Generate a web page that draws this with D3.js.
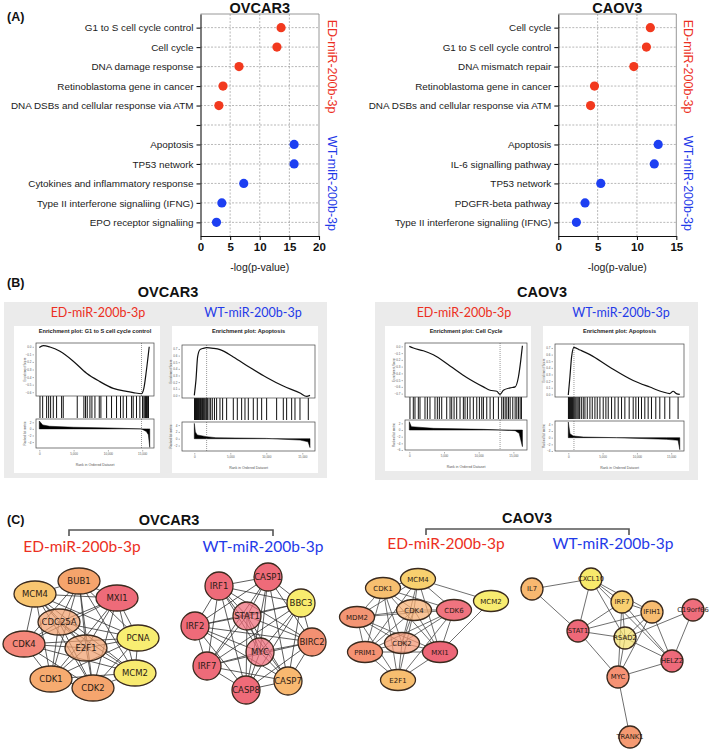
<!DOCTYPE html>
<html>
<head>
<meta charset="utf-8">
<script src="https://cdn.jsdelivr.net/npm/d3@7"></script>
<style>
body { margin: 0; background: #fff; }
text { font-family: "Liberation Sans", Arial, sans-serif; }
</style>
</head>
<body>
<svg id="fig" width="709" height="752"></svg>
<script>
// ---------- panel A data ----------
var ovEdTerms = ["G1 to S cell cycle control", "Cell cycle", "DNA damage response", "Retinoblastoma gene in cancer", "DNA DSBs and cellular response via ATM"];
var ovEdVals = [13.6, 12.9, 6.5, 3.8, 3.1];
var ovWtTerms = ["Apoptosis", "TP53 network", "Cytokines and inflammatory response", "Type II interferone signaliing (IFNG)", "EPO receptor signaliing"];
var ovWtVals = [15.8, 15.8, 7.3, 3.6, 2.7];
var caEdTerms = ["Cell cycle", "G1 to S cell cycle control", "DNA mismatch repair", "Retinoblastoma gene in cancer", "DNA DSBs and cellular response via ATM"];
var caEdVals = [11.7, 11.2, 9.6, 4.6, 4.1];
var caWtTerms = ["Apoptosis", "IL-6 signalling pathway", "TP53 network", "PDGFR-beta pathway", "Type II interferone signaliing (IFNG)"];
var caWtVals = [12.7, 12.2, 5.4, 3.4, 2.3];
var ovTicks = [0, 5, 10, 15, 20];
var caTicks = [0, 5, 10, 15];

// ---------- panel B data (GSEA) : [rank, value] ----------
var ovEdEs = [[0, -0.01], [580, 0.015], [1550, -0.003], [3010, -0.06], [4950, -0.19], [6890, -0.35], [8830, -0.46], [10780, -0.55], [12720, -0.59], [13690, -0.605], [14900, -0.62], [15240, -0.55], [15630, -0.30], [16020, 0]];
var ovEdMetric = [[0, 2.4], [500, 1.2], [1500, 0.8], [5000, 0.5], [10000, 0.3], [14900, 0], [15600, -0.8], [15900, -1.8], [16100, -5.6]];
var ovEdHits = [100, 490, 1070, 1360, 1650, 2040, 2520, 3250, 3490, 5530, 6500, 6740, 6990, 7380, 7670, 8110, 8740, 8980, 9810, 10530, 11260, 11840, 12230, 12720, 13450, 13690, 14170, 14660, 15050, 15250, 15390, 15490, 15630, 15730, 15830, 15920];

var ovWtEs = [[0, 0], [230, 0.23], [460, 0.58], [790, 0.69], [1250, 0.71], [1710, 0.72], [2640, 0.71], [3570, 0.69], [5420, 0.58], [7730, 0.42], [10050, 0.27], [12360, 0.14], [14680, 0.036], [15600, -0.015], [16070, 0]];
var ovWtMetric = [[0, 4.5], [150, 2.0], [400, 1.1], [1700, 0.6], [3000, 0.3], [10000, 0.1], [14700, -0.4], [15800, -0.9], [16070, -2.6]];
var ovWtHits = [30, 90, 160, 230, 290, 360, 430, 520, 600, 680, 770, 850, 940, 1040, 1150, 1260, 1390, 1520, 1680, 1850, 2050, 2270, 2500, 2800, 3100, 3565, 3935, 4490, 5417, 5973, 6575, 7038, 7500, 8195, 8750, 9353, 10047, 11436, 12362, 12825, 13520, 13983, 14677, 15835];

var caEdEs = [[0, 0], [580, -0.025], [2020, -0.065], [3460, -0.125], [5870, -0.29], [8270, -0.46], [10680, -0.60], [11640, -0.65], [12600, -0.665], [13080, -0.71], [13560, -0.65], [14530, -0.615], [15250, -0.60], [15730, -0.45], [16070, -0.2], [16300, 0.01]];
var caEdMetric = [[0, 2.5], [300, 1.0], [3500, 0.5], [10700, 0.2], [13080, 0], [15250, -0.2], [15830, -1.0], [16300, -5.0]];
var caEdHits = [96, 577, 818, 1299, 1540, 2260, 2600, 2980, 3700, 4040, 4330, 4670, 5390, 5870, 6110, 6450, 6830, 7310, 7790, 8030, 8370, 8750, 9230, 9720, 10100, 10440, 10680, 11160, 11640, 12120, 12840, 13320, 13560, 13810, 14050, 14290, 14530, 14910, 15250, 15490, 15730, 15970, 16160];

var caWtEs = [[0, -0.01], [240, 0.27], [485, 0.57], [825, 0.71], [1700, 0.67], [3150, 0.60], [6060, 0.41], [9460, 0.21], [11880, 0.11], [13820, 0.036], [14790, 0.011], [15280, 0.047], [15760, 0.011], [16250, 0]];
var caWtMetric = [[0, 4.7], [240, 1.2], [730, 0.5], [2200, 0.2], [7000, 0], [14300, -0.5], [16000, -0.8], [16250, -3.6]];
var caWtHits = [20, 80, 150, 220, 290, 370, 450, 540, 630, 730, 850, 980, 1120, 1280, 1450, 1650, 1900, 2180, 2425, 2765, 3150, 3490, 3880, 4220, 4610, 5090, 5480, 5820, 6305, 6790, 7275, 7760, 8245, 8875, 9460, 9850, 10235, 10670, 11155, 11640, 12125, 12755, 13340, 14065, 14790, 16005];

// ---------- panel C data (network layouts) : [name, x, y, fill] ----------
var ovEdNodes = [["BUB1", 79, 581, "#f5a46c"], ["MCM4", 35, 594, "#f8c570"], ["MXI1", 117, 598, "#ee6b79"], ["CDC25A", 59, 622, "#f0a06e"],
  ["PCNA", 138, 638, "#f8ee72"], ["CDK4", 24, 644, "#f4877a"], ["E2F1", 86, 648, "#f0a06e"], ["CDK1", 51, 679, "#f6ab70"],
  ["CDK2", 93, 688, "#f5a56e"], ["MCM2", 135, 673, "#f8ea70"]];
var ovEdUnder = ["CDC25A", "E2F1"];
var ovWtNodes = [["IRF1", 219, 586, "#ee6b79"], ["CASP1", 268, 577, "#ee6b79"], ["BBC3", 301, 603, "#f8ec6e"], ["STAT1", 247, 616, "#ee6b79"],
  ["IRF2", 195, 626, "#ee6b79"], ["BIRC2", 312, 642, "#f39072"], ["MYC", 260, 652, "#ee6b79"], ["IRF7", 207, 666, "#ee6b79"],
  ["CASP7", 288, 681, "#f8b870"], ["CASP8", 246, 690, "#ee6b79"]];
var ovWtUnder = ["STAT1", "MYC"];
var caEdNodes = [["MCM4", 418, 579, "#f8d06f"], ["CDK1", 383, 588, "#f7bf70"], ["MCM2", 491, 601, "#f8ec70"], ["CDK4", 414, 610, "#f5ad70"],
  ["CDK6", 454, 610, "#f0747f"], ["MDM2", 357, 617, "#f39574"], ["CDK2", 402, 643, "#f49672"], ["MXI1", 440, 652, "#ed6677"],
  ["PRIM1", 365, 652, "#f59273"], ["E2F1", 398, 680, "#f7be70"]];
var caEdUnder = ["CDK4", "CDK2"];
var caWtNodes = [["IL7", 532, 589, "#f8b870"], ["CXCL10", 591, 579, "#f8ea6c"], ["IRF7", 622, 602, "#f8d070"], ["IFIH1", 652, 612, "#f8bc70"],
  ["C19orf66", 693, 610, "#ef6e7c"], ["STAT1", 578, 631, "#ee6878"], ["RSAD2", 625, 638, "#f4e06c"], ["HELZ2", 672, 661, "#ee6a7a"],
  ["MYC", 618, 677, "#f59274"], ["TRANK1", 630, 737, "#f59a72"]];
var caWtUnder = ["RSAD2"];

var ovEdEdges = [["BUB1","MCM4"],["BUB1","MXI1"],["BUB1","CDC25A"],["BUB1","E2F1"],["BUB1","CDK4"],["BUB1","CDK1"],["BUB1","CDK2"],["BUB1","PCNA"],["BUB1","MCM2"],
  ["MCM4","CDC25A"],["MCM4","CDK4"],["MCM4","E2F1"],["MCM4","MXI1"],["MCM4","PCNA"],["MCM4","MCM2"],["MCM4","CDK1"],["MCM4","CDK2"],
  ["MXI1","CDC25A"],["MXI1","E2F1"],["MXI1","PCNA"],["MXI1","CDK2"],["MXI1","CDK1"],["MXI1","CDK4"],["MXI1","MCM2"],
  ["CDC25A","E2F1"],["CDC25A","CDK4"],["CDC25A","CDK1"],["CDC25A","CDK2"],["CDC25A","PCNA"],["CDC25A","MCM2"],
  ["PCNA","E2F1"],["PCNA","MCM2"],["PCNA","CDK2"],["PCNA","CDK1"],["PCNA","CDK4"],
  ["CDK4","E2F1"],["CDK4","CDK1"],["CDK4","CDK2"],["CDK4","MCM2"],["E2F1","CDK1"],["E2F1","CDK2"],["E2F1","MCM2"],
  ["CDK1","CDK2"],["CDK1","MCM2"],["CDK2","MCM2"]];
var ovWtEdges = [["IRF1","CASP1"],["IRF1","STAT1"],["IRF1","IRF2"],["IRF1","MYC"],["IRF1","IRF7"],["IRF1","BBC3"],["IRF1","BIRC2"],["IRF1","CASP7"],["IRF1","CASP8"],
  ["CASP1","STAT1"],["CASP1","BBC3"],["CASP1","IRF2"],["CASP1","MYC"],["CASP1","BIRC2"],["CASP1","IRF7"],["CASP1","CASP8"],["CASP1","CASP7"],
  ["BBC3","STAT1"],["BBC3","IRF2"],["BBC3","MYC"],["BBC3","BIRC2"],["BBC3","CASP7"],["BBC3","CASP8"],["BBC3","IRF7"],
  ["STAT1","IRF2"],["STAT1","MYC"],["STAT1","IRF7"],["STAT1","BIRC2"],["STAT1","CASP7"],["STAT1","CASP8"],
  ["IRF2","MYC"],["IRF2","IRF7"],["IRF2","BIRC2"],["IRF2","CASP8"],["IRF2","CASP7"],
  ["BIRC2","MYC"],["BIRC2","CASP7"],["BIRC2","CASP8"],["BIRC2","IRF7"],["MYC","IRF7"],["MYC","CASP7"],["MYC","CASP8"],
  ["IRF7","CASP8"],["IRF7","CASP7"],["CASP7","CASP8"]];
var caEdEdges = [["MCM4","CDK1"],["MCM4","MCM2"],["MCM4","CDK4"],["MCM4","CDK6"],["MCM4","CDK2"],["MCM4","MDM2"],["MCM4","PRIM1"],["MCM4","MXI1"],
  ["CDK1","CDK4"],["CDK1","MDM2"],["CDK1","CDK2"],["CDK1","PRIM1"],["CDK1","E2F1"],["CDK1","MXI1"],["CDK1","CDK6"],
  ["CDK4","CDK6"],["CDK4","MDM2"],["CDK4","CDK2"],["CDK4","PRIM1"],["CDK4","E2F1"],["CDK4","MXI1"],
  ["CDK6","CDK2"],["CDK6","MXI1"],["CDK6","MDM2"],["CDK6","E2F1"],["CDK6","PRIM1"],
  ["MDM2","CDK2"],["MDM2","PRIM1"],["MDM2","E2F1"],["MDM2","MXI1"],["CDK2","MXI1"],["CDK2","PRIM1"],["CDK2","E2F1"],
  ["PRIM1","E2F1"],["PRIM1","MXI1"],["MXI1","E2F1"],["MCM2","MXI1"]];
var caWtEdges = [["IL7","CXCL10"],["IL7","STAT1"],["CXCL10","STAT1"],["CXCL10","IRF7"],["CXCL10","IFIH1"],["CXCL10","RSAD2"],["CXCL10","HELZ2"],
  ["IRF7","STAT1"],["IRF7","RSAD2"],["IRF7","IFIH1"],["IRF7","HELZ2"],["IRF7","MYC"],["IFIH1","STAT1"],["IFIH1","RSAD2"],["IFIH1","HELZ2"],["IFIH1","MYC"],
  ["C19orf66","RSAD2"],["C19orf66","HELZ2"],["STAT1","RSAD2"],["STAT1","MYC"],["RSAD2","HELZ2"],["RSAD2","MYC"],["HELZ2","MYC"],["MYC","TRANK1"]];

var RED = "#ec2f22", BLUE = "#1f3ae8";
var svg = d3.select("#fig");

// panel letters
[["(A)", 21], ["(B)", 287], ["(C)", 524]].forEach(function (d) {
    svg.append("text").attr("x", 7).attr("y", d[1]).text(d[0])
        .style("font-size", "12.5px").style("font-weight", "bold").attr("fill", "#111");
});

// ---------- A : dot plots ----------
function drawDot(cfg) {
    let terms = cfg.ed.concat([""], cfg.wt);
    let vals = cfg.edV.concat([null], cfg.wtV);
    let xScale = d3.scaleLinear().domain([0, cfg.max]).range([cfg.x0, cfg.x1]);
    let yScale = d3.scalePoint().domain(terms).range([14, 236]).padding(0.7);
    let g = svg.append("g");

    // grid
    g.append("g").selectAll("line").data(terms).enter().append("line")
        .attr("x1", cfg.x0).attr("x2", cfg.x1)
        .attr("y1", d => yScale(d)).attr("y2", d => yScale(d))
        .attr("stroke", "#9a9a9a").attr("stroke-width", 0.7).attr("stroke-dasharray", "2,1.5");
    g.append("g").selectAll("line").data(cfg.ticks.slice(1, -1)).enter().append("line")
        .attr("x1", d => xScale(d)).attr("x2", d => xScale(d))
        .attr("y1", 14).attr("y2", 236)
        .attr("stroke", "#9a9a9a").attr("stroke-width", 0.7).attr("stroke-dasharray", "2,1.5");
    g.append("path").attr("d", "M" + cfg.x0 + ",14H" + cfg.x1 + "V236")
        .attr("fill", "none").attr("stroke", "#8c8c8c").attr("stroke-width", 0.9);

    let yAxis = d3.axisLeft(yScale).tickSize(4).tickSizeOuter(0).tickPadding(3);
    let ya = g.append("g").attr("transform", "translate(" + cfg.x0 + ",0)").call(yAxis);
    ya.selectAll("text").style("font-size", "9.9px").attr("fill", "#1a1a1a");
    ya.selectAll("line,path").attr("stroke", "#111").attr("stroke-width", 1.1);

    let xAxis = d3.axisBottom(xScale).tickValues(cfg.ticks).tickSize(4).tickSizeOuter(0).tickPadding(3);
    let xa = g.append("g").attr("transform", "translate(0,236)").call(xAxis);
    xa.selectAll("text").style("font-size", "11.5px").style("font-weight", "bold").attr("fill", "#111");
    xa.selectAll("line,path").attr("stroke", "#111").attr("stroke-width", 1.1);

    g.append("g").selectAll("circle").data(terms.filter((d, i) => vals[i] !== null)).enter()
        .append("circle")
        .attr("cx", d => xScale(vals[terms.indexOf(d)]))
        .attr("cy", d => yScale(d))
        .attr("r", 4.6)
        .attr("fill", d => terms.indexOf(d) < cfg.ed.length ? "#f2391e" : "#1d3ff2");

    let cx = (cfg.x0 + cfg.x1) / 2;
    g.append("text").attr("x", cx).attr("y", 13).attr("text-anchor", "middle").text(cfg.title)
        .style("font-size", "14.5px").style("font-weight", "bold").attr("fill", "#111");
    g.append("text").attr("x", cx).attr("y", 271).attr("text-anchor", "middle").text("-log(p-value)")
        .style("font-size", "10.5px").attr("fill", "#1a1a1a");

    let edMid = (yScale(cfg.ed[0]) + yScale(cfg.ed[cfg.ed.length - 1])) / 2;
    let wtMid = (yScale(cfg.wt[0]) + yScale(cfg.wt[cfg.wt.length - 1])) / 2;
    [[edMid, "ED-miR-200b-3p", RED], [wtMid, "WT-miR-200b-3p", BLUE]].forEach(function (d) {
        g.append("text").attr("transform", "translate(" + cfg.lab + "," + d[0] + ") rotate(90)")
            .attr("text-anchor", "middle").attr("dy", "0.35em").text(d[1])
            .style("font-size", "12.5px").attr("fill", d[2]);
    });
}
drawDot({ ed: ovEdTerms, edV: ovEdVals, wt: ovWtTerms, wtV: ovWtVals, max: 20, ticks: ovTicks, x0: 200.5, x1: 319, lab: 332, title: "OVCAR3" });
drawDot({ ed: caEdTerms, edV: caEdVals, wt: caWtTerms, wtV: caWtVals, max: 15, ticks: caTicks, x0: 558.3, x1: 676.3, lab: 688, title: "CAOV3" });

// ---------- B : GSEA ----------
function groupHeader(title, tx, ty, edx, wtx, ly, size) {
    svg.append("text").attr("x", tx).attr("y", ty).attr("text-anchor", "middle").text(title)
        .style("font-size", "14.5px").style("font-weight", "bold").attr("fill", "#111");
    svg.append("text").attr("x", edx).attr("y", ly).attr("text-anchor", "middle").text("ED-miR-200b-3p")
        .style("font-family", "Lato, 'Noto Sans', sans-serif").style("font-size", size).attr("fill", RED);
    svg.append("text").attr("x", wtx).attr("y", ly).attr("text-anchor", "middle").text("WT-miR-200b-3p")
        .style("font-family", "Lato, 'Noto Sans', sans-serif").style("font-size", size).attr("fill", BLUE);
}

svg.append("rect").attr("x", 4).attr("y", 302).attr("width", 323).attr("height", 176).attr("fill", "#ebebeb");
svg.append("rect").attr("x", 375).attr("y", 302).attr("width", 323).attr("height", 178).attr("fill", "#ebebeb");
groupHeader("OVCAR3", 168, 297, 98, 253, 317, "12.5px");
groupHeader("CAOV3", 542, 297, 464, 621, 317, "12.5px");

function drawGsea(p) {
    let g = svg.append("g");
    g.append("rect").attr("x", p.bg0).attr("y", 326).attr("width", 146).attr("height", p.bgH).attr("fill", "#fff");
    let x = d3.scaleLinear().domain([0, p.n]).range([p.r0, p.r0 + p.n / 5000 * p.step]);
    let yEs = d3.scaleLinear().domain(p.esDom).range([p.esBot, p.esTop]);
    let yRk = d3.scaleLinear().domain(p.rkDom).range([p.rkBot, p.rkTop]);

    // metric area
    g.append("path").datum(p.metric)
        .attr("d", d3.area().x(d => x(d[0])).y0(yRk(0)).y1(d => yRk(d[1])))
        .attr("fill", "#000").attr("stroke", "#000").attr("stroke-width", 0.5);
    // hits
    g.append("g").selectAll("line").data(p.hits).enter().append("line")
        .attr("x1", d => x(d)).attr("x2", d => x(d))
        .attr("y1", p.esBot).attr("y2", p.hitBot)
        .attr("stroke", "#111").attr("stroke-width", 1);
    // peak marker
    [[p.esTop, p.esBot], [p.rkTop, p.rkBot]].forEach(function (r) {
        g.append("line").attr("x1", x(p.peak)).attr("x2", x(p.peak)).attr("y1", r[0]).attr("y2", r[1])
            .attr("stroke", "#555").attr("stroke-width", 0.6).attr("stroke-dasharray", "1,1");
    });
    // running ES
    g.append("path").datum(p.es)
        .attr("d", d3.line().x(d => x(d[0])).y(d => yEs(d[1])).curve(d3.curveMonotoneX))
        .attr("fill", "none").attr("stroke", "#111").attr("stroke-width", 1.2);
    // frames
    [[p.esTop, p.esBot], [p.rkTop, p.rkBot]].forEach(function (r) {
        g.append("rect").attr("x", p.bx0).attr("y", r[0]).attr("width", p.bx1 - p.bx0).attr("height", r[1] - r[0])
            .attr("fill", "none").attr("stroke", "#444").attr("stroke-width", 0.7);
    });
    // tiny axes
    let ea = g.append("g").attr("transform", "translate(" + (p.bx0 - 2) + ",0)")
        .call(d3.axisLeft(yEs).ticks(7).tickSize(1.5).tickPadding(1));
    let ra = g.append("g").attr("transform", "translate(" + (p.bx0 - 2) + ",0)")
        .call(d3.axisLeft(yRk).ticks(5).tickSize(1.5).tickPadding(1));
    let xa = g.append("g").attr("transform", "translate(0," + (p.rkBot + 2) + ")")
        .call(d3.axisBottom(x).tickValues([0, 5000, 10000, 15000]).tickSize(1.5).tickPadding(1));
    [ea, ra, xa].forEach(function (a) {
        a.select(".domain").remove();
        a.selectAll("line").attr("stroke", "#666").attr("stroke-width", 0.5);
        a.selectAll("text").style("font-size", "3px").attr("fill", "#555");
    });
    g.append("text").attr("transform", "translate(" + (p.bx0 - 10) + "," + ((p.esTop + p.esBot) / 2) + ") rotate(-90)")
        .attr("text-anchor", "middle").text("Enrichment Score").style("font-size", "3px").attr("fill", "#555");
    g.append("text").attr("transform", "translate(" + (p.bx0 - 10) + "," + ((p.rkTop + p.rkBot) / 2) + ") rotate(-90)")
        .attr("text-anchor", "middle").text("Ranked list metric").style("font-size", "3px").attr("fill", "#555");
    g.append("text").attr("x", (p.bx0 + p.bx1) / 2).attr("y", p.rkBot + 18).attr("text-anchor", "middle")
        .text("Rank in Ordered Dataset").style("font-size", "3.5px").attr("fill", "#555");
    g.append("text").attr("x", (p.bx0 + p.bx1) / 2).attr("y", 333).attr("text-anchor", "middle")
        .text(p.title).style("font-size", "5.6px").style("font-weight", "bold").attr("fill", "#222");
}

drawGsea({ bg0: 14, bgH: 147, bx0: 36, bx1: 154, esTop: 343, esBot: 396, hitBot: 418, rkTop: 419, rkBot: 448,
    r0: 39.3, step: 34.3, n: 16100, esDom: [-0.65, 0.05], rkDom: [-5.8, 3], peak: 14900,
    es: ovEdEs, metric: ovEdMetric, hits: ovEdHits, title: "Enrichment plot: G1 to S cell cycle control" });
drawGsea({ bg0: 172, bgH: 147, bx0: 182, bx1: 315, esTop: 345, esBot: 398, hitBot: 420, rkTop: 422, rkBot: 451,
    r0: 194.3, step: 36, n: 16070, esDom: [-0.04, 0.76], rkDom: [-3.6, 4.9], peak: 1710,
    es: ovWtEs, metric: ovWtMetric, hits: ovWtHits, title: "Enrichment plot: Apoptosis" });
drawGsea({ bg0: 385, bgH: 145, bx0: 405, bx1: 527, esTop: 343, esBot: 397, hitBot: 419, rkTop: 420, rkBot: 450,
    r0: 409.3, step: 34.7, n: 16300, esDom: [-0.75, 0.05], rkDom: [-6, 3], peak: 13080,
    es: caEdEs, metric: caEdMetric, hits: caEdHits, title: "Enrichment plot: Cell Cycle" });
drawGsea({ bg0: 543, bgH: 145, bx0: 555, bx1: 684, esTop: 344, esBot: 397, hitBot: 419, rkTop: 421, rkBot: 451,
    r0: 568.3, step: 34.3, n: 16250, esDom: [-0.04, 0.76], rkDom: [-4, 5], peak: 825,
    es: caWtEs, metric: caWtMetric, hits: caWtHits, title: "Enrichment plot: Apoptosis" });

// ---------- C : networks ----------
function bracket(x0, x1, y) {
    svg.append("path").attr("d", "M" + x0 + "," + (y + 6) + "V" + y + "H" + x1 + "V" + (y + 6))
        .attr("fill", "none").attr("stroke", "#555").attr("stroke-width", 1.6);
}
bracket(69, 273, 530);
bracket(426, 629, 529);
groupHeader("OVCAR3", 169, 525, 82, 263, 552, "15.5px");
groupHeader("CAOV3", 527, 523, 446, 613, 549, "15.5px");

function drawNet(nodes, edges, under, shape) {
    let g = svg.append("g");
    let pos = {};
    nodes.forEach(function (d) { pos[d[0]] = d; });
    g.append("g").selectAll("line").data(edges).enter().append("line")
        .attr("x1", d => pos[d[0]][1]).attr("y1", d => pos[d[0]][2])
        .attr("x2", d => pos[d[1]][1]).attr("y2", d => pos[d[1]][2])
        .attr("stroke", shape.edge).attr("stroke-width", 0.8);
    let sel = g.append("g").selectAll("g").data(nodes).enter().append("g")
        .attr("transform", d => "translate(" + d[1] + "," + d[2] + ")");
    if (shape.r) {
        sel.append("circle").attr("r", shape.r);
    } else {
        sel.append("ellipse").attr("rx", shape.rx).attr("ry", shape.ry);
    }
    // central nodes are semi-transparent so the edges show through
    sel.selectAll("circle,ellipse").attr("fill", d => d[3])
        .attr("fill-opacity", d => under.indexOf(d[0]) >= 0 ? 0.72 : 1)
        .attr("stroke", "#3a2a1e").attr("stroke-width", 1.3);
    sel.append("text").attr("dy", "0.36em").attr("text-anchor", "middle")
        .text(d => d[0])
        .style("font-family", "'DejaVu Sans', sans-serif").style("font-size", shape.font).attr("fill", "#2a1a14");
}
drawNet(ovEdNodes, ovEdEdges, ovEdUnder, { rx: 21, ry: 13, edge: "#333", font: "8.5px" });
drawNet(ovWtNodes, ovWtEdges, ovWtUnder, { r: 14, edge: "#333", font: "8.5px" });
drawNet(caEdNodes, caEdEdges, caEdUnder, { rx: 17.5, ry: 10.5, edge: "#4a4a4a", font: "7px" });
drawNet(caWtNodes, caWtEdges, caWtUnder, { r: 11, edge: "#4a4a4a", font: "6.8px" });
</script>
</body>
</html>
